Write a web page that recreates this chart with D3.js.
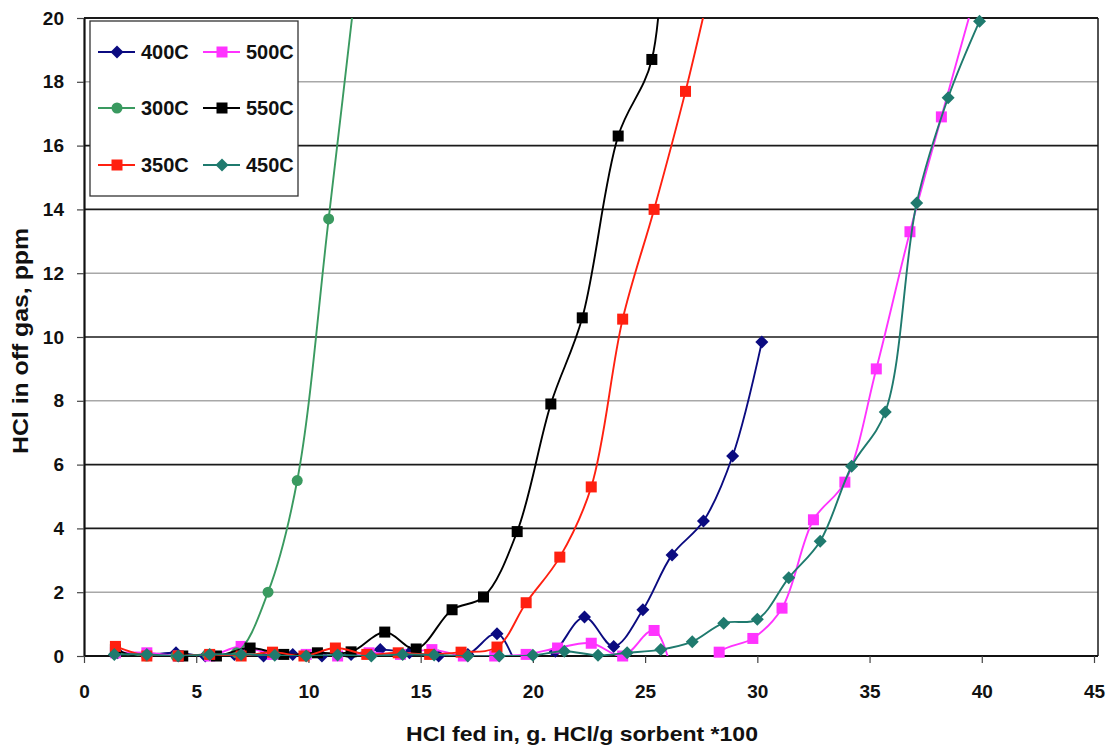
<!DOCTYPE html>
<html><head><meta charset="utf-8">
<script src="https://cdn.jsdelivr.net/npm/d3@7"></script>
<style>
html,body{margin:0;padding:0;background:#fff;}
svg text{font-family:"Liberation Sans",Arial,sans-serif;font-weight:bold;fill:#111;}
</style></head>
<body><svg id="chart" width="1107" height="748"></svg>
<script>
// ---- data ----
const seriesNames = ["400C","500C","300C","550C","350C","450C"];
const seriesColors = ["#0b0b80","#ff33ff","#3a9a60","#000000","#ff2010","#1f7a6e"];
const seriesShapes = ["diamond","square","circle","square","square","diamond"];

const x400 = [1.5,2.8,4.1,5.4,6.7,8.0,9.3,10.6,11.9,13.2,14.5,15.8,17.1,18.4,19.7,21.0,22.3,23.6,24.9,26.2,27.6,28.9,30.2];
const y400 = [0.1,0.05,0.1,0.0,0.05,0.0,0.05,0.0,0.05,0.2,0.1,0.0,0.05,0.7,-0.6,0.15,1.22,0.3,1.45,3.17,4.23,6.27,9.84];

const x500 = [1.4,2.8,4.2,5.6,7.0,8.4,9.9,11.3,12.7,14.1,15.5,16.9,18.3,19.7,21.1,22.6,24.0,25.4,26.9,28.3,29.8,31.1,32.5,33.9,35.3,36.8,38.2,39.9];
const y500 = [0.1,0.1,0.0,0.0,0.3,0.05,0.05,0.0,0.1,0.05,0.2,0.0,0.0,0.05,0.25,0.4,0.0,0.8,-1.6,0.12,0.55,1.5,4.27,5.45,9.0,13.3,16.9,21.2];

const x300 = [1.4,2.8,4.1,5.5,6.8,8.2,9.5,10.9,12.4];
const y300 = [0.1,0.0,0.0,0.05,0.1,2.0,5.5,13.7,22.8];

const x550 = [1.4,2.9,4.4,5.9,7.4,8.9,10.4,11.9,13.4,14.8,16.4,17.8,19.3,20.8,22.2,23.8,25.3,25.9];
const y550 = [0.2,-0.1,0.0,0.0,0.25,0.05,0.1,0.13,0.75,0.22,1.45,1.85,3.9,7.9,10.6,16.3,18.7,25.0];

const x350 = [1.4,2.8,4.2,5.6,7.0,8.4,9.8,11.2,12.6,14.0,15.4,16.8,18.4,19.7,21.2,22.6,24.0,25.4,26.8,28.0];
const y350 = [0.3,0.0,0.0,0.05,0.0,0.12,0.0,0.25,0.05,0.1,0.05,0.12,0.28,1.67,3.1,5.3,10.56,14.0,17.7,21.3];

const x450 = [1.35,2.8,4.2,5.6,7.0,8.5,9.9,11.3,12.8,14.2,15.6,17.1,18.5,20.0,21.4,22.9,24.2,25.7,27.1,28.5,30.0,31.4,32.8,34.2,35.7,37.1,38.5,39.9];
const y450 = [0.05,0.05,0.0,0.05,0.05,0.02,0.0,0.03,0.0,0.05,0.03,0.0,0.0,0.02,0.15,0.02,0.1,0.2,0.45,1.03,1.15,2.45,3.6,5.95,7.65,14.2,17.5,19.9];

const xTicks = [0,5,10,15,20,25,30,35,40,45];
const yTicks = [0,2,4,6,8,10,12,14,16,18,20];
const darkGrid = [4,6,10,14,16,20];
const xTitle = "HCl fed in, g. HCl/g sorbent *100";
const yTitle = "HCl in off gas, ppm";

const seriesX = [x400,x500,x300,x550,x350,x450];
const seriesY = [y400,y500,y300,y550,y350,y450];

// ---- layout ----
const L = 84, R = 1094, T = 18, B = 656;
const svg = d3.select("#chart");
const x = d3.scaleLinear().domain([0,45]).range([L,R]);
const y = d3.scaleLinear().domain([0,20]).range([B,T]);

svg.append("defs").append("clipPath").attr("id","plotclip")
  .append("rect").attr("x",L).attr("y",T).attr("width",1098-L).attr("height",B-T);

// gridlines
svg.append("g").selectAll("line").data(yTicks.filter(d=>d>0)).join("line")
  .attr("x1",L).attr("x2",1098).attr("y1",d=>y(d)).attr("y2",d=>y(d))
  .attr("stroke",d=>darkGrid.includes(d)?"#1a1a1a":"#a8a8a8")
  .attr("stroke-width",d=>d===20?2.2:1.6);
// right border
svg.append("line").attr("x1",1098).attr("x2",1098).attr("y1",T).attr("y2",B)
  .attr("stroke","#1a1a1a").attr("stroke-width",1.5);

// axes
const yAxis = svg.append("g").attr("transform",`translate(${L},0)`)
  .call(d3.axisLeft(y).tickValues(yTicks).tickSize(7).tickPadding(13).tickSizeOuter(0));
yAxis.select(".domain").attr("stroke","#111").attr("stroke-width",2.2);
yAxis.selectAll(".tick line").attr("stroke","#444").attr("stroke-width",1.2);
yAxis.selectAll("text").attr("font-size",19).style("font-family","Liberation Sans, Arial, sans-serif").style("font-weight","bold").attr("fill","#111");

const xAxis = svg.append("g").attr("transform",`translate(0,${B})`)
  .call(d3.axisBottom(x).tickValues(xTicks).tickSize(7).tickPadding(22).tickSizeOuter(0));
xAxis.select(".domain").attr("stroke","#111").attr("stroke-width",2.2).attr("d",`M${L},0H1098`);
xAxis.selectAll(".tick line").attr("stroke","#444").attr("stroke-width",1.2);
xAxis.selectAll("text").attr("font-size",19).style("font-family","Liberation Sans, Arial, sans-serif").style("font-weight","bold").attr("fill","#111");

// titles
svg.append("text").attr("x",582).attr("y",741).attr("text-anchor","middle")
  .attr("font-size",21).attr("textLength",352).attr("lengthAdjust","spacingAndGlyphs").text(xTitle);
svg.append("text").attr("transform","translate(28,341) rotate(-90)").attr("text-anchor","middle")
  .attr("font-size",22).attr("textLength",226).attr("lengthAdjust","spacingAndGlyphs").text(yTitle);

// series
const line = d3.line().x(d=>x(d[0])).y(d=>y(d[1])).curve(d3.curveCatmullRom.alpha(0.5));
function marker(g, shape, color, cx, cy){
  if(shape==="diamond"){
    const s=6.5;
    g.append("path").attr("d",`M${cx},${cy-s}L${cx+s},${cy}L${cx},${cy+s}L${cx-s},${cy}Z`).attr("fill",color);
  } else if(shape==="square"){
    const s=5.5;
    g.append("rect").attr("x",cx-s).attr("y",cy-s).attr("width",2*s).attr("height",2*s).attr("fill",color);
  } else {
    g.append("circle").attr("cx",cx).attr("cy",cy).attr("r",5.5).attr("fill",color);
  }
}
seriesNames.forEach((name,i)=>{
  const pts = seriesX[i].map((v,j)=>[v,seriesY[i][j]]);
  const g = svg.append("g");
  g.append("path").datum(pts).attr("d",line).attr("fill","none")
    .attr("stroke",seriesColors[i]).attr("stroke-width",1.9).attr("clip-path","url(#plotclip)");
  pts.filter(p=>p[1]>=0 && p[1]<=20).forEach(p=>marker(g,seriesShapes[i],seriesColors[i],x(p[0]),y(p[1])));
});

// legend
const lg = svg.append("g");
lg.append("rect").attr("x",90).attr("y",21).attr("width",208).attr("height",175)
  .attr("fill","#fff").attr("stroke","#333").attr("stroke-width",1.3);
const rowsY = [52,108,165];
const colX = [98,203];
seriesNames.forEach((name,i)=>{
  const cx = colX[i%2], cy = rowsY[Math.floor(i/2)];
  lg.append("line").attr("x1",cx).attr("x2",cx+37).attr("y1",cy).attr("y2",cy)
    .attr("stroke",seriesColors[i]).attr("stroke-width",2);
  marker(lg,seriesShapes[i],seriesColors[i],cx+19,cy);
  lg.append("text").attr("x",cx+43).attr("y",cy+7).attr("font-size",20).text(name);
});
</script></body></html>
